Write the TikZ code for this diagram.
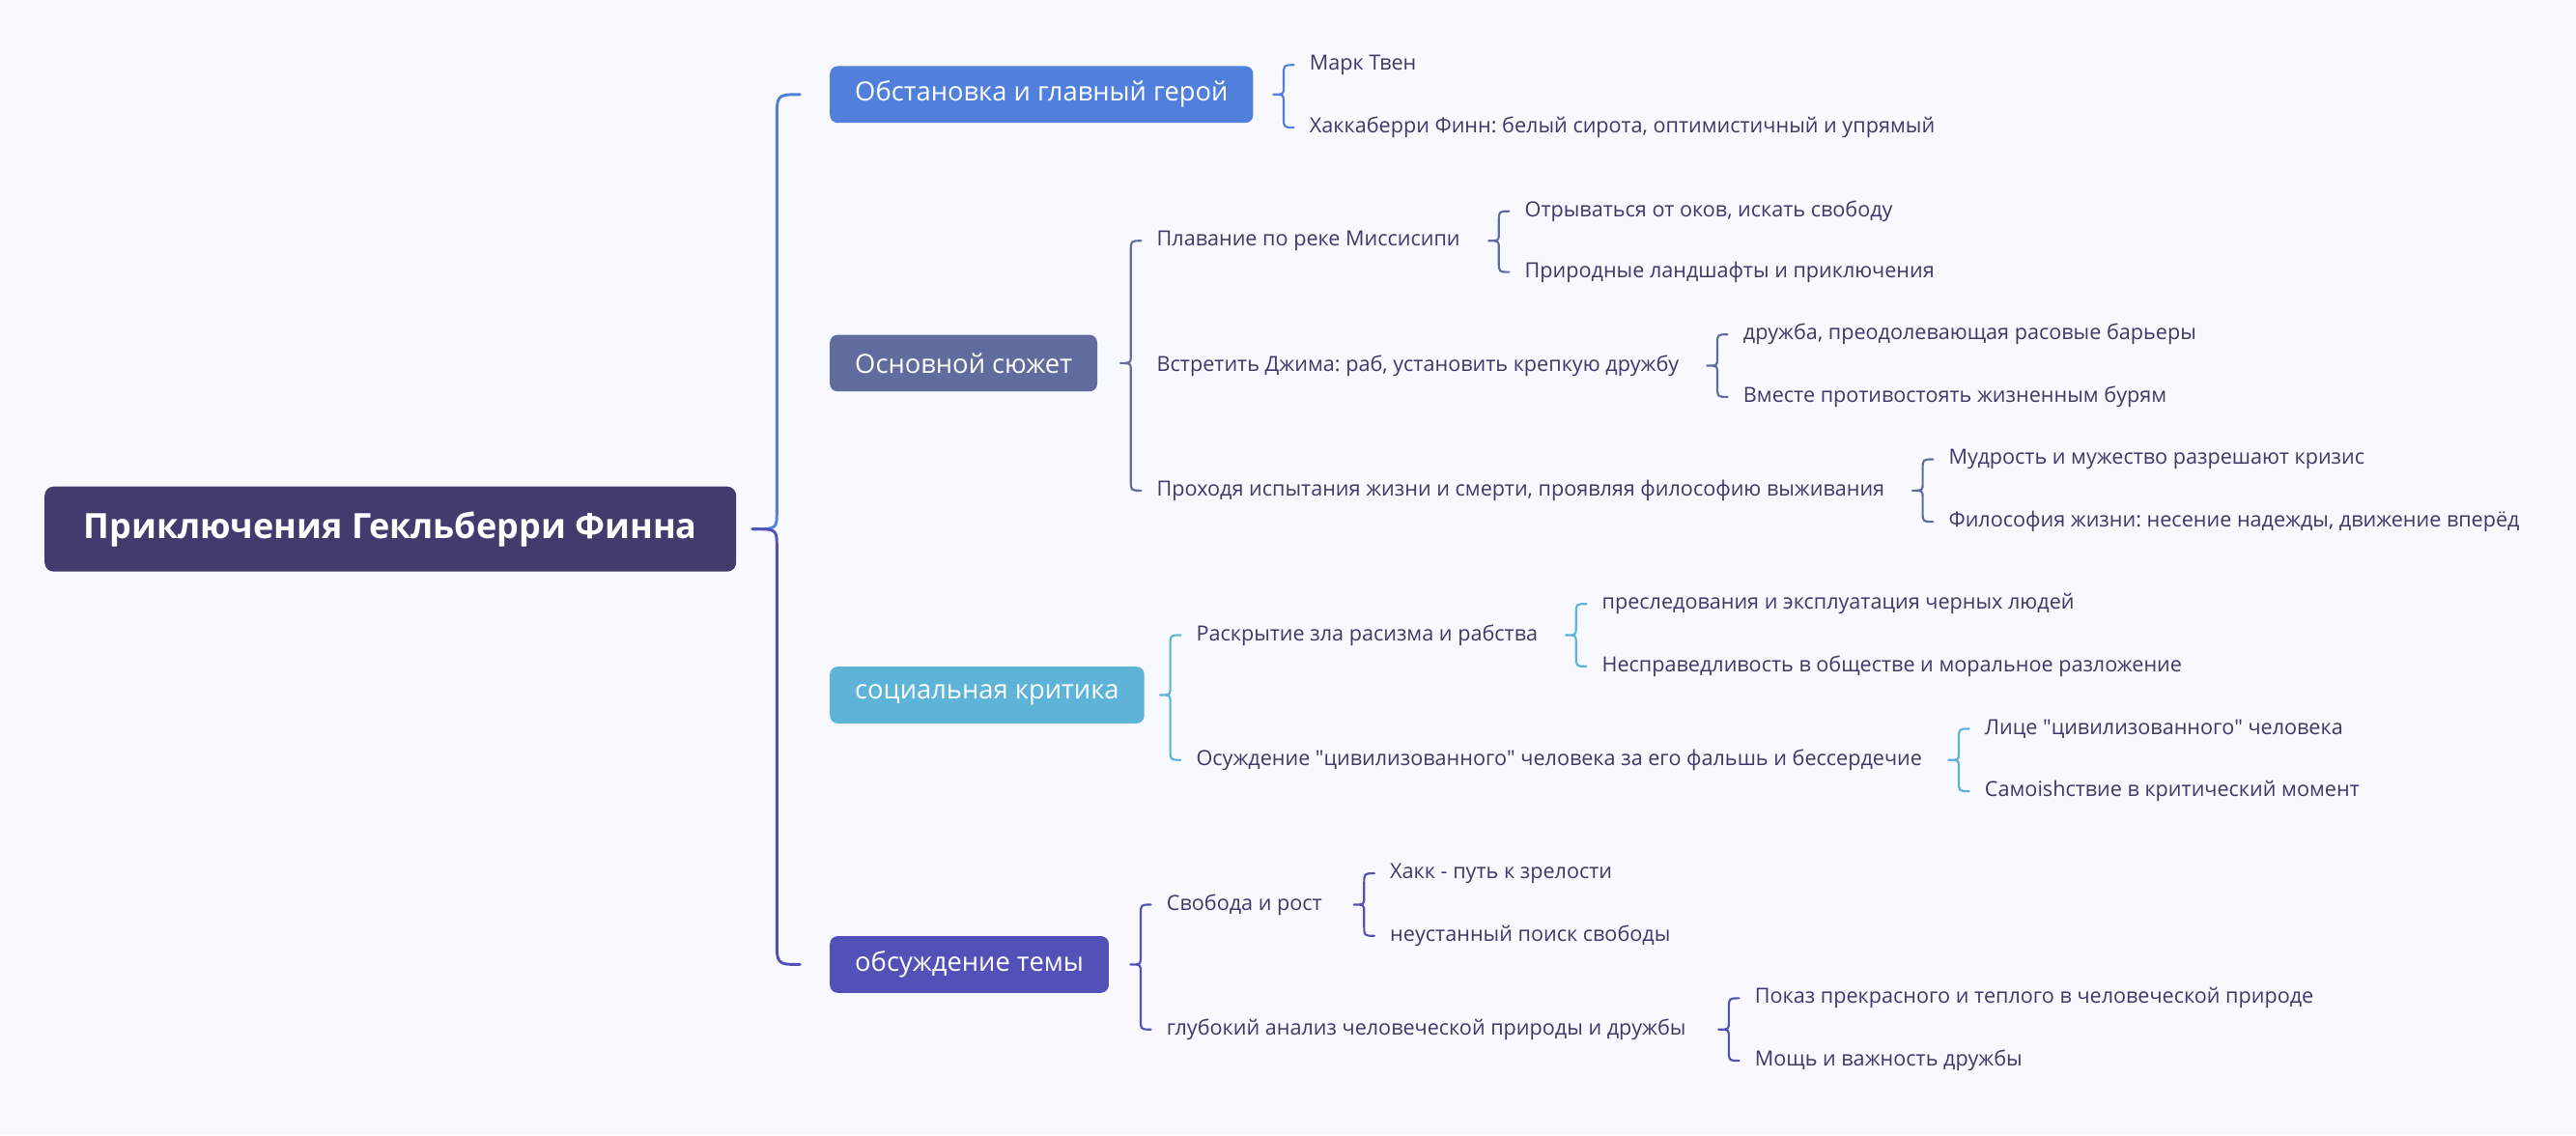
\documentclass[tikz,border=0pt]{standalone}
\usepackage{fontspec}
\setmainfont{Open Sans}
\frenchspacing
\usetikzlibrary{calc}
\definecolor{bgc}{HTML}{F8F9FE}
\definecolor{rootc}{HTML}{403D6E}
\definecolor{bluec}{HTML}{507FDC}
\definecolor{slatec}{HTML}{5F6C9D}
\definecolor{skyc}{HTML}{5DB3D8}
\definecolor{violc}{HTML}{5151B8}
\definecolor{txtc}{HTML}{3B3A69}
\newcommand{\qd}{\textquotedbl}
% brace: colour, parent, first child, last child
\newcommand{\brc}[4]{%
  \draw[brc,#1] let \p1=(#2.east), \p2=(#3.west), \p3=(#4.west) in
    (\x2-12pt,\y2) .. controls (\x2-20pt,\y2) .. (\x2-20pt,\y2-8pt)
    -- (\x2-20pt,\y1+6pt) .. controls (\x2-20pt,\y1) .. (\x2-28pt,\y1)
    .. controls (\x2-20pt,\y1) .. (\x2-20pt,\y1-6pt)
    -- (\x2-20pt,\y3+8pt) .. controls (\x2-20pt,\y3) .. (\x2-12pt,\y3);}
\begin{document}
\begin{tikzpicture}[x=1.2757pt,y=-1.2757pt,line join=round,line cap=round,
  brc/.style={line width=1.6pt},
  mainbrc/.style={line width=2.2pt},
  rootbox/.style={fill=rootc,text=white,rounded corners=7pt,anchor=west,
    minimum width=537pt,minimum height=66pt,font=\fontsize{27}{33}\selectfont\bfseries},
  topic/.style={fill=#1,text=white,rounded corners=6pt,anchor=west,
    inner xsep=19.5pt,minimum height=44pt,font=\fontsize{20.5}{25}\selectfont},
  leaf/.style={text=txtc,anchor=west,inner xsep=0pt,yshift=-2pt,font=\fontsize{16.2}{20}\selectfont}]
\fill[bgc] (0,0) rectangle (1568,691);
\useasboundingbox (0,0) rectangle (1568,691);

\node[rootbox] (root) at (27,322) {Приключения Гекльберри Финна};

\node[topic=bluec] (setting) at (505,57.5) {Обстановка и главный герой};
\node[topic=slatec] (plot) at (505,221) {Основной сюжет};
\node[topic=skyc] (critique) at (505,423) {социальная критика};
\node[topic=violc] (theme) at (505,587) {обсуждение темы};

\node[leaf] (a1) at (797,38) {Марк Твен};
\node[leaf] (a2) at (797,76) {Хаккаберри Финн: белый сирота, оптимистичный и упрямый};

\node[leaf] (b1) at (704,145) {Плавание по реке Миссисипи};
\node[leaf] (b2) at (704,221) {Встретить Джима: раб, установить крепкую дружбу};
\node[leaf] (b3) at (704,297) {Проходя испытания жизни и смерти, проявляя философию выживания};
\node[leaf] (b11) at (928,127) {Отрываться от оков, искать свободу};
\node[leaf] (b12) at (928,164) {Природные ландшафты и приключения};
\node[leaf] (b21) at (1061,202) {дружба, преодолевающая расовые барьеры};
\node[leaf] (b22) at (1061,240) {Вместе противостоять жизненным бурям};
\node[leaf] (b31) at (1186,278) {Мудрость и мужество разрешают кризис};
\node[leaf] (b32) at (1186,316) {Философия жизни: несение надежды, движение вперёд};

\node[leaf] (c1) at (728,385) {Раскрытие зла расизма и рабства};
\node[leaf] (c2) at (728,461) {Осуждение \qd цивилизованного\qd{} человека за его фальшь и бессердечие};
\node[leaf] (c11) at (975,366) {преследования и эксплуатация черных людей};
\node[leaf] (c12) at (975,404) {Несправедливость в обществе и моральное разложение};
\node[leaf] (c21) at (1208,442) {Лице \qd цивилизованного\qd{} человека};
\node[leaf] (c22) at (1208,480) {Самоishствие в критический момент};

\node[leaf] (d1) at (710,549) {Свобода и рост};
\node[leaf] (d2) at (710,625) {глубокий анализ человеческой природы и дружбы};
\node[leaf] (d11) at (846,530) {Хакк - путь к зрелости};
\node[leaf] (d12) at (846,568) {неустанный поиск свободы};
\node[leaf] (d21) at (1068,606) {Показ прекрасного и теплого в человеческой природе};
\node[leaf] (d22) at (1068,644) {Мощь и важность дружбы};

% main brace, two halves
\draw[mainbrc,bluec] let \p1=(root.east), \p2=(setting.west) in
  (\x2-23pt,\y2) .. controls (\x2-41pt,\y2) .. (\x2-41pt,\y2-20pt)
  -- (\x2-41pt,\y1+14pt) .. controls (\x2-41pt,\y1) .. (\x2-60pt,\y1);
\draw[mainbrc,violc] let \p1=(root.east), \p2=(theme.west) in
  (\x2-60pt,\y1) .. controls (\x2-41pt,\y1) .. (\x2-41pt,\y1-14pt)
  -- (\x2-41pt,\y2+20pt) .. controls (\x2-41pt,\y2) .. (\x2-23pt,\y2);

\brc{bluec}{setting}{a1}{a2}
\brc{slatec}{plot}{b1}{b3}
\brc{slatec}{b1}{b11}{b12}
\brc{slatec}{b2}{b21}{b22}
\brc{slatec}{b3}{b31}{b32}
\brc{skyc}{critique}{c1}{c2}
\brc{skyc}{c1}{c11}{c12}
\brc{skyc}{c2}{c21}{c22}
\brc{violc}{theme}{d1}{d2}
\brc{violc}{d1}{d11}{d12}
\brc{violc}{d2}{d21}{d22}
\end{tikzpicture}
\end{document}
